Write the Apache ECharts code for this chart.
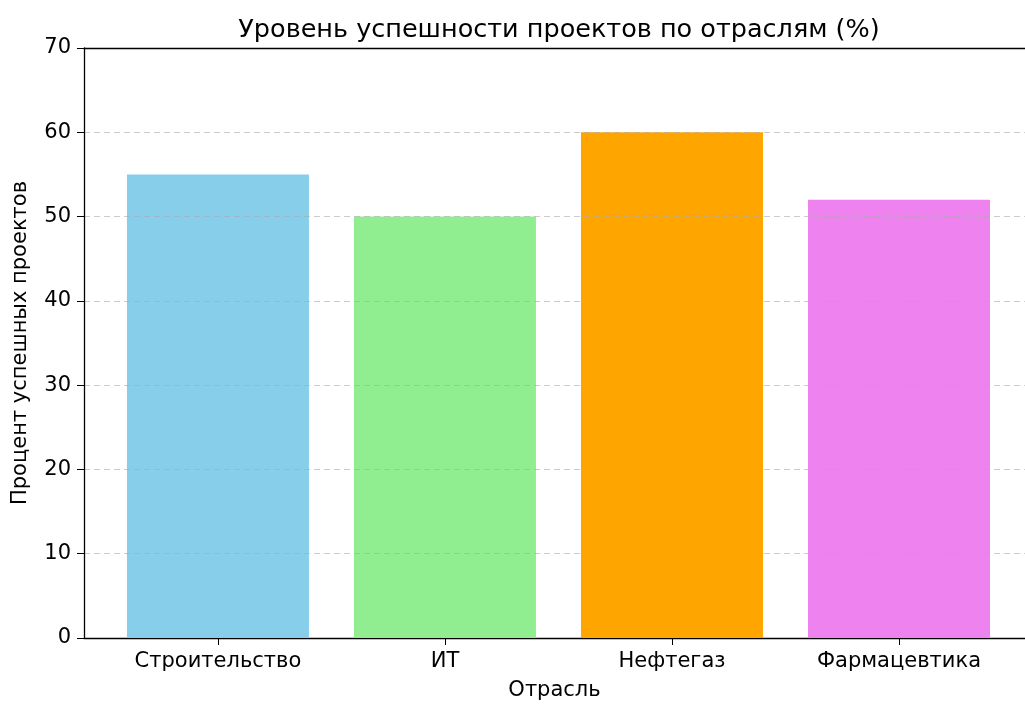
<!DOCTYPE html>
<html>
<head>
<meta charset="utf-8">
<script src="https://cdn.jsdelivr.net/npm/echarts@6/dist/echarts.min.js"></script>
<style>
  html, body { margin: 0; padding: 0; background: #fff; }
  #main { width: 1025px; height: 706px; }
</style>
</head>
<body>
<div id="main"></div>
<script>
// данные
const categories = ['Строительство', 'ИТ', 'Нефтегаз', 'Фармацевтика'];
const successRates = [55, 50, 60, 52];
const barColors = ['#87CEEB', '#90EE90', '#FFA500', '#EE82EE'];
const yTicks = [0, 10, 20, 30, 40, 50, 60, 70];

const font = 'DejaVu Sans';
const chart = echarts.init(document.getElementById('main'), null, { renderer: 'canvas' });

const xPos = categories.map((c, i) => i);

const option = {
  backgroundColor: '#ffffff',
  animation: false,
  title: {
    text: 'Уровень успешности проектов по отраслям (%)',
    left: 554, top: 12,
    textAlign: 'center',
    textStyle: { fontFamily: font, fontSize: 25.5, fontWeight: 'normal', color: '#000' }
  },
  // правая граница графика уходит за край окна, как в оригинале
  grid: { left: 84, top: 48, right: 0, height: 592 },
  xAxis: [{
    type: 'value',
    min: -0.59, max: 3.555,
    name: 'Отрасль',
    nameLocation: 'middle',
    nameGap: 42,
    nameTextStyle: { fontFamily: font, fontSize: 21, color: '#000' },
    axisLine: { show: true, onZero: false, lineStyle: { color: '#000', width: 1.3 } },
    axisTick: { show: true, inside: false, customValues: xPos, length: 7, lineStyle: { color: '#000' } },
    axisLabel: {
      customValues: xPos,
      formatter: v => categories[Math.round(v)],
      fontFamily: font, fontSize: 21, color: '#000', margin: 13
    },
    splitLine: { show: false }
  }, {
    type: 'value',
    position: 'top',
    min: -0.59, max: 3.555,
    axisLine: { show: true, onZero: false, lineStyle: { color: '#000', width: 1.3 } },
    axisTick: { show: false },
    axisLabel: { show: false },
    splitLine: { show: false }
  }],
  yAxis: {
    type: 'value',
    min: 0, max: 70, interval: 10,
    z: 5,
    name: 'Процент успешных проектов',
    nameLocation: 'middle',
    nameGap: 53,
    nameTextStyle: { fontFamily: font, fontSize: 21, color: '#000' },
    axisLine: { show: true, onZero: false, lineStyle: { color: '#000', width: 1.3 } },
    axisTick: { show: true, inside: false, length: 7, lineStyle: { color: '#000' } },
    axisLabel: {
      fontFamily: font, fontSize: 21, color: '#000', margin: 13,
      formatter: v => yTicks.includes(v) ? String(v) : ''
    },
    splitLine: {
      show: true,
      showMinLine: false,
      showMaxLine: false,
      lineStyle: { color: 'rgba(170,170,170,0.6)', type: [6, 4], width: 1 }
    }
  },
  series: [{
    type: 'bar',
    xAxisIndex: 0,
    barWidth: 182,
    data: successRates.map((v, i) => ({
      value: [i, v],
      itemStyle: { color: barColors[i] }
    }))
  }]
};

chart.setOption(option);
</script>
</body>
</html>
